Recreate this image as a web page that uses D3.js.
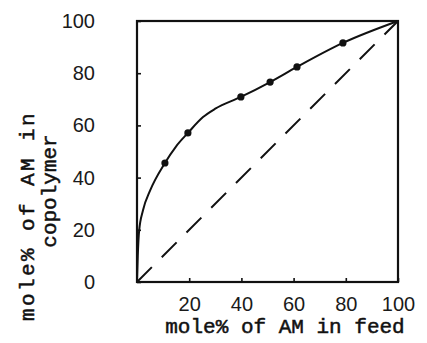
<!DOCTYPE html>
<html>
<head>
<meta charset="utf-8">
<script src="https://cdn.jsdelivr.net/npm/d3@7"></script>
<style>
  html, body { margin: 0; padding: 0; background: #fff; }
  svg { display: block; }
  .tick-label { font-family: "Liberation Sans", Arial, sans-serif; font-size: 20px; fill: #1a1a1a; }
  .title { font-family: "Liberation Mono", "Courier New", monospace; font-size: 21px; fill: #111; stroke: #111; stroke-width: 0.5px; }
</style>
</head>
<body>
<svg id="chart" width="427" height="343"></svg>
<script>
// Measured copolymer compositions (mole% AM in feed vs. in copolymer)
const feed = [10.7, 19.5, 39.8, 51.0, 61.3, 78.9];
const copolymer = [45.6, 57.1, 70.9, 76.6, 82.4, 91.6];

// Smooth composition curve drawn through the measurements
const curveFeed = [0, 0.3, 0.8, 2.3, 5, 10.7, 15, 19.5, 25.3, 30, 39.8, 51.0, 61.3, 78.9, 100];
const curveCopolymer = [0, 10, 19.5, 27.5, 35, 45.6, 52, 57.1, 63.2, 66.4, 70.9, 76.6, 82.4, 91.6, 100];

// Ideal (azeotropic) line: copolymer = feed
const idealFeed = [0, 100];
const idealCopolymer = [0, 100];

const xTicks = [20, 40, 60, 80, 100];
const yTicks = [0, 20, 40, 60, 80, 100];
const xTitle = "mole% of AM in feed";
const yTitleLines = ["mole% of AM in", "copolymer"];

const svg = d3.select("#chart");
const plot = { left: 137, right: 398, top: 21, bottom: 282 };

const x = d3.scaleLinear().domain([0, 100]).range([plot.left, plot.right]);
const y = d3.scaleLinear().domain([0, 100]).range([plot.bottom, plot.top]);

// Frame
svg.append("rect")
  .attr("x", x(0)).attr("y", y(100))
  .attr("width", x(100) - x(0)).attr("height", y(0) - y(100))
  .attr("fill", "none").attr("stroke", "#111").attr("stroke-width", 2.2);

// Axes with short inward ticks
const xAxis = svg.append("g")
  .attr("transform", `translate(0,${y(0)})`)
  .call(d3.axisBottom(x).tickValues(xTicks).tickSize(-4).tickSizeOuter(0).tickPadding(15).tickFormat(d3.format("d")));
const yAxis = svg.append("g")
  .attr("transform", `translate(${x(0)},0)`)
  .call(d3.axisLeft(y).tickValues(yTicks).tickSize(-4).tickSizeOuter(0).tickPadding(42).tickFormat(d3.format("d")));

[xAxis, yAxis].forEach(g => {
  g.select(".domain").remove();
  g.selectAll(".tick line").attr("stroke", "#111").attr("stroke-width", 1.6);
  g.selectAll(".tick text").attr("class", "tick-label").attr("fill", null);
  g.attr("font-family", null).attr("font-size", null);
});

// Ideal line (dashed)
const line = d3.line().x(d => x(d[0])).y(d => y(d[1]));
svg.append("path")
  .datum(d3.zip(idealFeed, idealCopolymer))
  .attr("d", line)
  .attr("fill", "none").attr("stroke", "#111").attr("stroke-width", 2)
  .attr("stroke-dasharray", "21,14");

// Composition curve
svg.append("path")
  .datum(d3.zip(curveFeed, curveCopolymer))
  .attr("d", line.curve(d3.curveMonotoneX))
  .attr("fill", "none").attr("stroke", "#111").attr("stroke-width", 2);

// Measured points
svg.append("g").selectAll("circle")
  .data(d3.zip(feed, copolymer))
  .join("circle")
  .attr("cx", d => x(d[0])).attr("cy", d => y(d[1]))
  .attr("r", 3.6).attr("fill", "#111");

// Titles
svg.append("text")
  .attr("class", "title")
  .attr("x", 285).attr("y", 333)
  .attr("text-anchor", "middle")
  .text(xTitle);

// Two-line vertical title; the first line is typed with wider spacing
const yTitlePos = [
  { cx: 34, cy: 216, spacing: 2.4 },
  { cx: 56, cy: 191, spacing: 0 }
];
yTitleLines.forEach((t, i) => {
  svg.append("text")
    .attr("class", "title")
    .attr("transform", `translate(${yTitlePos[i].cx},${yTitlePos[i].cy}) rotate(-90)`)
    .attr("text-anchor", "middle")
    .attr("letter-spacing", yTitlePos[i].spacing)
    .text(t);
});
</script>
</body>
</html>
